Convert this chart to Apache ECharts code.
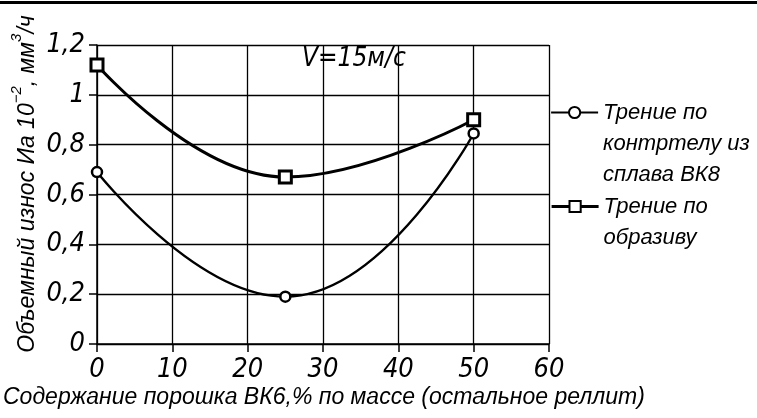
<!DOCTYPE html>
<html>
<head>
<meta charset="utf-8">
<script src="https://cdn.jsdelivr.net/npm/echarts@6/dist/echarts.min.js"></script>
<style>
  html, body { margin: 0; padding: 0; background: #fff; }
  #chart { width: 757px; height: 418px; }
</style>
</head>
<body>
<div id="chart"></div>
<script>
// content of VK6 powder, % by mass
const xValues = [0, 25, 50];
// wear vs counterbody of VK8 alloy
const counterbodyWear = [0.69, 0.19, 0.845];
// wear vs abrasive
const abrasiveWear = [1.12, 0.67, 0.9];
const seriesNames = ['Трение по\nконтртелу из\nсплава ВК8', 'Трение по\nобразиву'];

const narrow = '"Liberation Sans Narrow", "DejaVu Sans Condensed", sans-serif';
const wide = '"Liberation Sans", "DejaVu Sans", sans-serif';

// legend text hangs below the icon: pad the top with empty lines
const legendText = { fontFamily: wide, fontStyle: 'italic', fontSize: 22, lineHeight: 31, color: '#000' };
const legendBase = { left: 550, padding: 0, selectedMode: false, itemWidth: 47, itemHeight: 14, textStyle: legendText };

const chart = echarts.init(document.getElementById('chart'));
chart.setOption({
	animation: false,
	grid: { left: 97, right: 208, top: 45, bottom: 74 },
	legend: [Object.assign({}, legendBase, {
		top: 35,
		data: [seriesNames[0]],
		lineStyle: { width: 2.2 },
		formatter: (name) => '\n\n' + name,
	}), Object.assign({}, legendBase, {
		top: 160,
		data: [seriesNames[1]],
		lineStyle: { width: 3.2 },
		formatter: (name) => '\n' + name,
	})],
	xAxis: {
		type: 'value',
		min: 0,
		max: 60,
		interval: 10,
		axisLine: { lineStyle: { color: '#000', width: 1.5 } },
		axisTick: { length: 8, lineStyle: { color: '#000', width: 1.5 } },
		splitLine: { lineStyle: { color: '#000', width: 1.3 } },
		axisLabel: { fontFamily: narrow, fontStyle: 'italic', fontSize: 27, color: '#000', margin: 12 },
	},
	yAxis: {
		type: 'value',
		min: 0,
		max: 1.2,
		interval: 0.2,
		axisLine: { show: true, lineStyle: { color: '#000', width: 1.5 } },
		axisTick: { show: true, length: 8, lineStyle: { color: '#000', width: 1.5 } },
		splitLine: { lineStyle: { color: '#000', width: 1.3 } },
		axisLabel: {
			fontFamily: narrow, fontStyle: 'italic', fontSize: 27, color: '#000', margin: 12,
			formatter: (v) => String(+v.toFixed(1)).replace('.', ','),
		},
	},
	series: [{
		name: seriesNames[0],
		type: 'line',
		smooth: 0.5,
		data: xValues.map((x, i) => [x, counterbodyWear[i]]),
		symbol: 'circle',
		symbolSize: 10,
		lineStyle: { color: '#000', width: 2.4 },
		itemStyle: { color: '#fff', borderColor: '#000', borderWidth: 2.5 },
		z: 3,
	}, {
		name: seriesNames[1],
		type: 'line',
		smooth: 0.45,
		data: xValues.map((x, i) => [x, abrasiveWear[i]]),
		symbol: 'rect',
		symbolSize: 12,
		lineStyle: { color: '#000', width: 3 },
		itemStyle: { color: '#fff', borderColor: '#000', borderWidth: 3 },
		z: 4,
	}],
	graphic: [{
		type: 'rect',
		shape: { x: 0, y: 1, width: 757, height: 3 },
		style: { fill: '#000' },
	}, {
		type: 'text',
		left: 302,
		top: 46,
		style: { text: 'V=15м/с', fontFamily: narrow, fontStyle: 'italic', fontSize: 26, fill: '#000' },
	}, {
		type: 'text',
		left: 3,
		top: 386,
		style: {
			text: 'Содержание порошка ВК6,% по массе (остальное реллит)',
			fontFamily: wide, fontStyle: 'italic', fontSize: 23, fill: '#000',
		},
	}, {
		type: 'text',
		x: 24,
		y: 184,
		rotation: Math.PI / 2,
		style: {
			text: '{a|Объемный износ Иа 10}{s|−2}{a|, мм}{s|3}{a|/ч}',
			align: 'center',
			verticalAlign: 'middle',
			rich: {
				a: { fontFamily: wide, fontStyle: 'italic', fontSize: 23, lineHeight: 30, fill: '#000', verticalAlign: 'bottom' },
				s: { fontFamily: wide, fontStyle: 'italic', fontSize: 15, lineHeight: 30, fill: '#000', verticalAlign: 'top' },
			},
		},
	}],
});
</script>
</body>
</html>
